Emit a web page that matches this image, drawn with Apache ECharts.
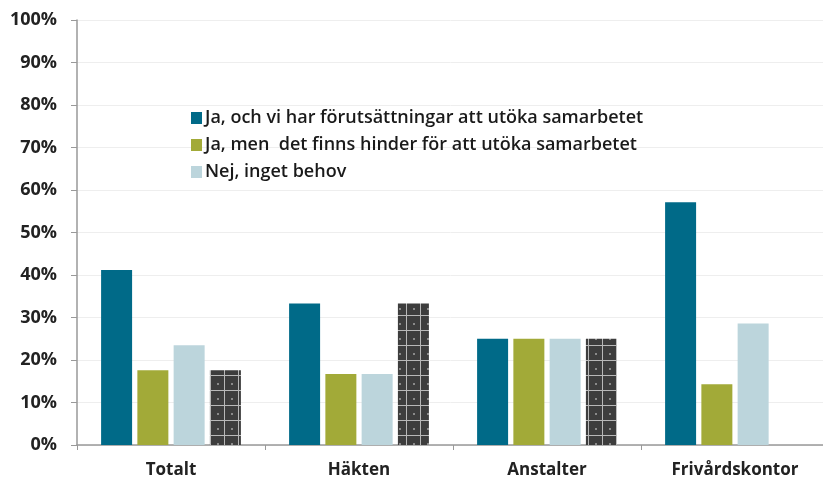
<!doctype html>
<html lang="sv">
<head>
<meta charset="utf-8">
<title>Samarbete</title>
<script src="https://cdn.jsdelivr.net/npm/echarts@6/dist/echarts.min.js"></script>
<style>
  html, body { margin: 0; padding: 0; background: #fff; }
  #chart { width: 823px; height: 481px; }
</style>
</head>
<body>
<div id="chart"></div>
<script type="text/javascript">
    var categories = ['Totalt', 'Häkten', 'Anstalter', 'Frivårdskontor'];
    var seriesNames = [
        'Ja, och vi har förutsättningar att utöka samarbetet',
        'Ja, men  det finns hinder för att utöka samarbetet',
        'Nej, inget behov',
        'Övrigt'
    ];
    var jaOch = [41.2, 33.3, 25, 57.1];
    var jaMen = [17.6, 16.7, 25, 14.3];
    var nej = [23.5, 16.7, 25, 28.6];
    var ovrigt = [17.6, 33.3, 25, null];
    var yTicks = [0, 10, 20, 30, 40, 50, 60, 70, 80, 90, 100];

    // patterned fill for the dark series
    var tile = document.createElement('canvas');
    tile.width = 14;
    tile.height = 15;
    var ctx = tile.getContext('2d');
    ctx.fillStyle = '#3d3d3d';
    ctx.fillRect(0, 0, 14, 15);
    ctx.fillStyle = '#b8b8b8';
    ctx.fillRect(0, 0, 1, 15);
    ctx.fillRect(0, 0, 14, 1);
    ctx.fillStyle = '#8a8a8a';
    ctx.fillRect(7, 8, 2, 2);

    var chart = echarts.init(document.getElementById('chart'));
    var option = {
        animation: false,
        textStyle: { fontFamily: 'Open Sans' },
        grid: { left: 77, width: 752, top: 20, bottom: 36, outerBoundsMode: 'none' },
        legend: {
            data: seriesNames.slice(0, 3),
            orient: 'vertical',
            left: 186,
            top: 104,
            itemGap: 9,
            itemWidth: 11,
            itemHeight: 12,
            icon: 'rect',
            textStyle: { fontFamily: 'Open Sans', fontWeight: 600, fontSize: 18, lineHeight: 18, color: '#1a1a1a', padding: [0, 0, 0, -2] }
        },
        xAxis: {
            type: 'category',
            data: categories,
            axisLine: { lineStyle: { color: '#999', width: 1.5 } },
            axisTick: { show: true, length: 5, lineStyle: { color: '#999' } },
            axisLabel: { margin: 17, fontFamily: 'Open Sans', fontWeight: 'bold', fontSize: 17, color: '#222' }
        },
        yAxis: {
            type: 'value',
            min: 0,
            max: 100,
            interval: 10,
            axisLine: { show: true, lineStyle: { color: '#999', width: 1.5 } },
            axisTick: { show: true, length: 6, lineStyle: { color: '#999' } },
            splitLine: { lineStyle: { color: '#eeeeee' } },
            axisLabel: {
                margin: 20, fontFamily: 'Open Sans', fontWeight: 'bold', fontSize: 18, color: '#222',
                formatter: function (v) {
                    return yTicks.indexOf(v) >= 0 ? v + '%' : '';
                }
            }
        },
        series: [
            { name: seriesNames[0], type: 'bar', data: jaOch, barWidth: 31, barGap: '17%', itemStyle: { color: '#006a88' } },
            { name: seriesNames[1], type: 'bar', data: jaMen, barWidth: 31, itemStyle: { color: '#a2aa38' } },
            { name: seriesNames[2], type: 'bar', data: nej, barWidth: 31, itemStyle: { color: '#bcd5dc' } },
            { name: seriesNames[3], type: 'bar', data: ovrigt, barWidth: 31, itemStyle: { color: { image: tile, repeat: 'repeat' } } }
        ]
    };
    chart.setOption(option);
</script>
</body>
</html>
